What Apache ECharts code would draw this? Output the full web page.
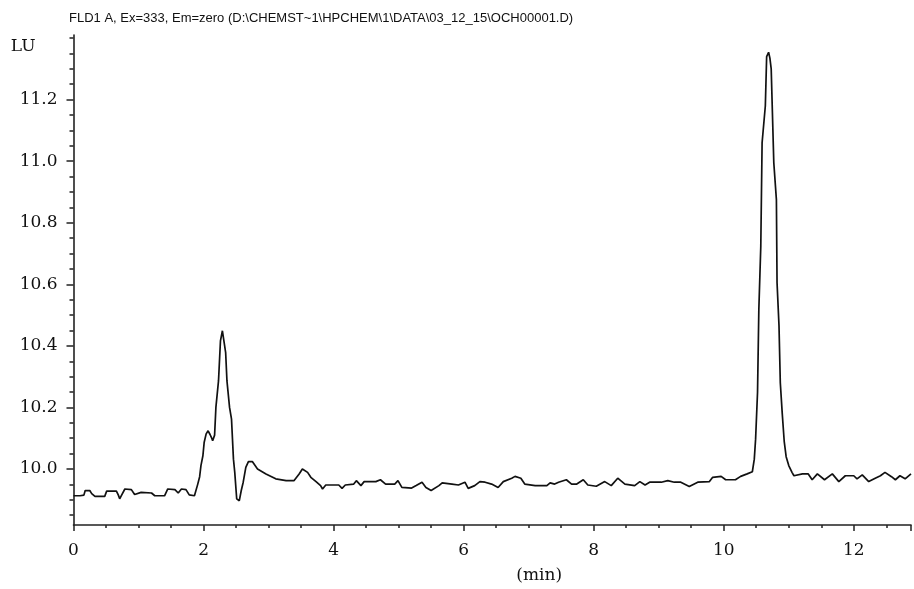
<!DOCTYPE html>
<html>
<head>
<meta charset="utf-8">
<script src="https://cdn.jsdelivr.net/npm/echarts@6/dist/echarts.min.js"></script>
<style>html,body{margin:0;padding:0;background:#fff}#c{width:914px;height:589px}</style>
</head>
<body>
<div id="c"></div>
<script>
const titleText = 'FLD1 A, Ex=333, Em=zero (D:\\CHEMST~1\\HPCHEM\\1\\DATA\\03_12_15\\OCH00001.D)';
const times = [0.00,0.10,0.16,0.18,0.25,0.28,0.33,0.48,0.51,0.66,0.69,0.71,0.74,0.79,0.89,0.94,1.04,1.20,1.25,1.40,1.45,1.56,1.61,1.66,1.73,1.78,1.86,1.91,1.94,1.96,1.99,2.01,2.04,2.07,2.10,2.12,2.14,2.17,2.19,2.23,2.26,2.29,2.31,2.34,2.36,2.40,2.43,2.46,2.48,2.51,2.55,2.58,2.61,2.65,2.69,2.75,2.83,2.96,3.11,3.27,3.39,3.47,3.52,3.60,3.65,3.73,3.80,3.83,3.88,4.08,4.13,4.18,4.31,4.35,4.42,4.47,4.65,4.72,4.80,4.94,4.99,5.05,5.20,5.27,5.36,5.42,5.50,5.62,5.67,5.82,5.92,6.02,6.07,6.17,6.25,6.33,6.43,6.53,6.61,6.74,6.79,6.88,6.94,7.10,7.28,7.33,7.40,7.46,7.58,7.66,7.74,7.84,7.91,8.04,8.17,8.27,8.37,8.48,8.63,8.71,8.79,8.86,9.04,9.14,9.24,9.34,9.47,9.60,9.78,9.83,9.96,10.03,10.18,10.26,10.36,10.44,10.47,10.49,10.52,10.54,10.57,10.59,10.64,10.66,10.69,10.71,10.73,10.77,10.81,10.82,10.85,10.87,10.90,10.93,10.96,11.00,11.05,11.08,11.21,11.30,11.36,11.44,11.55,11.67,11.77,11.87,12.00,12.05,12.13,12.23,12.33,12.41,12.48,12.58,12.64,12.71,12.79,12.88];
const signal = [9.913,9.913,9.915,9.930,9.930,9.920,9.911,9.911,9.928,9.928,9.915,9.903,9.915,9.935,9.933,9.917,9.924,9.922,9.913,9.913,9.935,9.933,9.922,9.935,9.933,9.916,9.913,9.950,9.975,10.011,10.043,10.087,10.114,10.124,10.112,10.103,10.092,10.110,10.200,10.286,10.416,10.449,10.445,10.378,10.286,10.200,10.162,10.032,9.989,9.903,9.897,9.930,9.957,10.005,10.024,10.024,10.000,9.984,9.968,9.962,9.962,9.984,10.000,9.989,9.973,9.959,9.946,9.935,9.948,9.948,9.937,9.948,9.951,9.962,9.946,9.959,9.959,9.965,9.951,9.951,9.962,9.940,9.938,9.946,9.957,9.940,9.930,9.946,9.955,9.951,9.948,9.957,9.937,9.946,9.959,9.957,9.951,9.940,9.959,9.970,9.976,9.970,9.951,9.946,9.946,9.955,9.951,9.957,9.965,9.951,9.951,9.965,9.948,9.944,9.959,9.946,9.970,9.951,9.946,9.959,9.948,9.957,9.957,9.962,9.957,9.957,9.943,9.957,9.959,9.973,9.976,9.965,9.965,9.976,9.984,9.991,10.032,10.097,10.250,10.520,10.724,11.060,11.180,11.340,11.354,11.335,11.300,10.995,10.875,10.605,10.465,10.280,10.180,10.090,10.040,10.011,9.989,9.978,9.984,9.984,9.965,9.984,9.965,9.984,9.959,9.978,9.978,9.968,9.981,9.959,9.970,9.978,9.989,9.975,9.965,9.978,9.968,9.984];
const yMajorTicks = [10.0,10.2,10.4,10.6,10.8,11.0,11.2];
const yMinorTicks = [9.85,9.9,9.95,10.05,10.1,10.15,10.25,10.3,10.35,10.45,10.5,10.55,10.65,10.7,10.75,10.85,10.9,10.95,11.05,11.1,11.15,11.25,11.3,11.35,11.4];
const xMin = 0, xMax = 12.88, xStep = 2;
const yMin = 9.818, yMax = 11.41;

const points = times.map((t, i) => [t, signal[i]]);
const serif = 'DejaVu Serif';
const axisColor = '#222';

const chart = echarts.init(document.getElementById('c'), null, {renderer: 'canvas'});
chart.setOption({
  animation: false,
  backgroundColor: '#fff',
  title: {
    text: titleText,
    left: 64, top: 7,
    textStyle: {fontFamily: 'Liberation Sans', fontSize: 13, fontWeight: 'normal', color: '#111'}
  },
  grid: {left: 73.5, right: 0, top: 35, bottom: 63, containLabel: false},
  xAxis: {
    type: 'value', min: xMin, max: xMax, interval: xStep,
    name: '(min)', nameLocation: 'middle', nameGap: 42,
    nameTextStyle: {fontFamily: serif, fontSize: 17, color: '#111', padding: [0, 0, 0, 94]},
    axisLine: {show: true, lineStyle: {color: axisColor, width: 1.6}},
    axisTick: {show: true, length: 6, lineStyle: {color: axisColor, width: 1.5}},
    minorTick: {show: true, splitNumber: 4, length: 3, lineStyle: {color: axisColor, width: 1.5}},
    axisLabel: {fontFamily: serif, fontSize: 17, color: '#111', margin: 17,
      formatter: v => (v >= xMax ? '' : String(v))},
    splitLine: {show: false}
  },
  yAxis: [{
    type: 'value', min: yMin, max: yMax, position: 'left',
    name: 'LU', nameLocation: 'end', nameGap: -20,
    nameTextStyle: {fontFamily: serif, fontSize: 17, color: '#111', align: 'right', padding: [0, 38, 0, 0]},
    axisLine: {show: true, lineStyle: {color: axisColor, width: 1.6}},
    axisTick: {show: true, length: 7, customValues: yMajorTicks, lineStyle: {color: axisColor, width: 1.5}},
    axisLabel: {fontFamily: serif, fontSize: 17, color: '#111', margin: 16,
      customValues: yMajorTicks, formatter: v => v.toFixed(1)},
    splitLine: {show: false}
  }, {
    type: 'value', min: yMin, max: yMax, position: 'left', offset: 0,
    axisLine: {show: false},
    axisTick: {show: true, length: 4, customValues: yMinorTicks, lineStyle: {color: axisColor, width: 1.5}},
    axisLabel: {show: false},
    splitLine: {show: false}
  }],
  series: [{
    type: 'line', data: points, showSymbol: false, symbol: 'none',
    lineStyle: {color: '#111', width: 1.7}, xAxisIndex: 0, yAxisIndex: 0
  }]
});
</script>
</body>
</html>
